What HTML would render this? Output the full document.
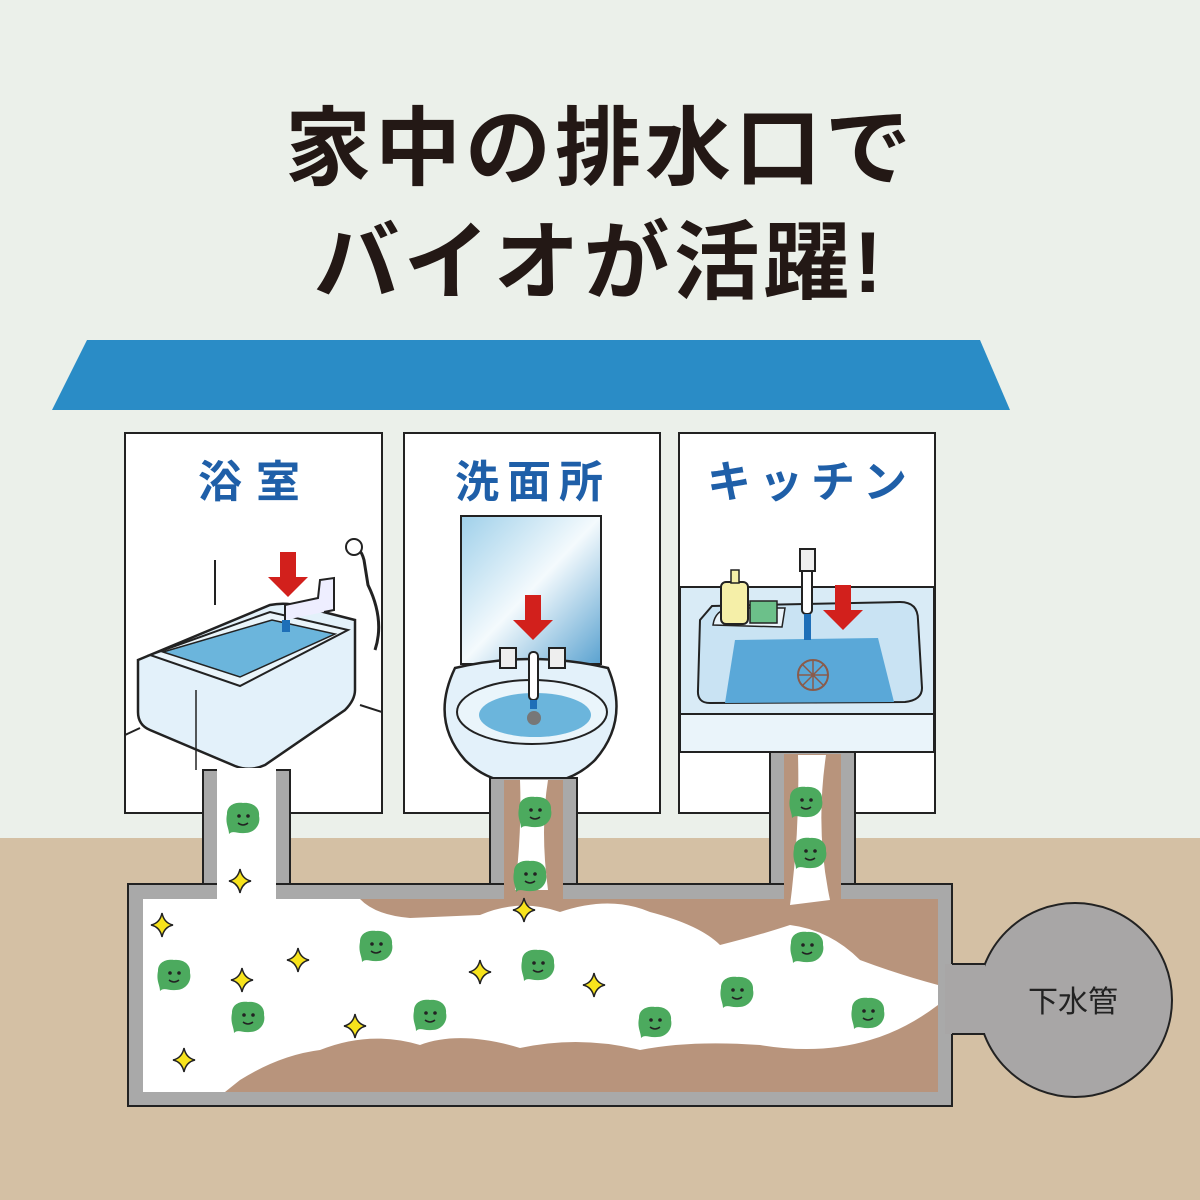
<!DOCTYPE html><html><head><meta charset="utf-8"><style>body{margin:0}svg{display:block}</style></head><body>
<svg width="1200" height="1200" viewBox="0 0 1200 1200" xmlns="http://www.w3.org/2000/svg" font-family="'Liberation Sans','Noto Sans CJK JP',sans-serif">
<defs><linearGradient id="mg" x1="0" y1="0" x2="1" y2="1"><stop offset="0" stop-color="#9fd0ea"/><stop offset="0.5" stop-color="#f4fafd"/><stop offset="1" stop-color="#5aa2d0"/></linearGradient>
<g id="blob"><path d="M-16,-4 C-16,-14 -6,-16 0,-15 C10,-16 17,-10 16,-2 C18,6 12,15 2,15 C-6,16 -10,12 -14,16 C-14,10 -18,6 -16,-4Z" fill="#4caa5e"/><circle cx="-4" cy="-2" r="1.8" fill="#222"/><circle cx="5" cy="-2" r="1.8" fill="#222"/><path d="M-5,5 Q0,9 5,5" stroke="#222" stroke-width="1.5" fill="none"/></g>
<g id="spk"><path d="M0,-12 Q2,-2 11,0 Q2,2 0,12 Q-2,2 -11,0 Q-2,-2 0,-12Z" fill="#f7e31c" stroke="#222" stroke-width="1.5"/></g>
<g id="arr"><rect x="-8" y="-45" width="16" height="26" fill="#d2201c"/><path d="M-20,-20 L20,-20 L0,0Z" fill="#d2201c"/></g>
</defs>
<rect width="1200" height="1200" fill="#ebf0ea"/>
<rect y="838" width="1200" height="362" fill="#d4c0a4"/>
<text x="600" y="178" font-size="86" font-weight="bold" fill="#231815" text-anchor="middle" letter-spacing="4">家中の排水口で</text>
<text x="600" y="292" font-size="86" font-weight="bold" fill="#231815" text-anchor="middle" letter-spacing="4">バイオが活躍!</text>
<polygon points="87,340 980,340 1010,410 52,410" fill="#2a8cc6"/>
<g stroke="#222" stroke-width="2" fill="#fff">
<rect x="125" y="433" width="257" height="380"/><rect x="404" y="433" width="256" height="380"/><rect x="679" y="433" width="256" height="380"/></g>
<g font-size="44" font-weight="bold" fill="#1f5fa8" text-anchor="middle">
<text x="256" y="497" letter-spacing="14">浴室</text><text x="533" y="497" letter-spacing="8">洗面所</text><text x="811" y="497" letter-spacing="8">キッチン</text></g>
<!-- bath -->
<polyline points="125,735 140,728" stroke="#222" stroke-width="2" fill="none"/>
<polyline points="360,705 382,712" stroke="#222" stroke-width="2" fill="none"/>
<line x1="215" y1="560" x2="215" y2="605" stroke="#222" stroke-width="2"/>
<path d="M138,660 L270,605 Q285,602 300,606 L355,620 L355,690 Q355,700 345,710 L265,765 Q250,772 235,766 L150,730 Q138,725 138,712Z" fill="#e3f1fa" stroke="#222" stroke-width="2.5"/>
<path d="M150,655 L270,612 L348,630 L240,686Z" fill="#eaf5fb" stroke="#222" stroke-width="2"/>
<path d="M163,652 L272,620 L335,634 L240,677Z" fill="#6bb5dc" stroke="#222" stroke-width="1.5"/>
<line x1="196" y1="690" x2="196" y2="770" stroke="#222" stroke-width="1.5"/>
<path d="M285,620 L285,605 L318,598 L320,580 L334,578 L334,610 L324,612" fill="#eef" stroke="#222" stroke-width="2"/>
<rect x="282" y="620" width="8" height="12" fill="#1e6fb8"/>
<path d="M352,550 Q360,545 364,560 L368,585 Q385,620 375,650" fill="none" stroke="#222" stroke-width="3"/>
<circle cx="354" cy="547" r="8" fill="#fff" stroke="#222" stroke-width="2"/>
<use href="#arr" x="288" y="597"/>
<!-- sink -->
<rect x="461" y="516" width="140" height="148" fill="url(#mg)" stroke="#222" stroke-width="2"/>
<path d="M455,668 Q530,650 608,668 Q630,720 595,760 Q570,785 530,784 Q490,785 465,760 Q430,720 455,668Z" fill="#e3f1fa" stroke="#222" stroke-width="2.5"/>
<ellipse cx="532" cy="712" rx="75" ry="32" fill="#eaf5fb" stroke="#222" stroke-width="2"/>
<ellipse cx="535" cy="715" rx="56" ry="22" fill="#6bb5dc"/>
<circle cx="534" cy="718" r="7" fill="#777"/>
<rect x="529" y="652" width="9" height="48" rx="4" fill="#fff" stroke="#222" stroke-width="2"/>
<rect x="530" y="700" width="7" height="9" fill="#1e6fb8"/>
<rect x="500" y="648" width="16" height="20" fill="#eee" stroke="#222" stroke-width="2"/><rect x="549" y="648" width="16" height="20" fill="#eee" stroke="#222" stroke-width="2"/>
<use href="#arr" x="533" y="640"/>
<!-- kitchen -->
<rect x="680" y="587" width="254" height="165" fill="#d9ebf6" stroke="#222" stroke-width="2"/>
<line x1="680" y1="714" x2="934" y2="714" stroke="#222" stroke-width="2"/>
<rect x="681" y="715" width="252" height="36" fill="#eaf4fa"/>
<path d="M712,606 L900,602 Q918,602 918,620 L922,688 Q922,700 905,702 L710,703 Q697,703 698,690 L700,620Z" fill="#c9e3f3" stroke="#222" stroke-width="2"/>
<path d="M735,640 L878,638 L894,702 L725,703Z" fill="#5aa8d8"/>
<circle cx="813" cy="675" r="15" fill="none" stroke="#8a5b4a" stroke-width="2"/>
<path d="M798,675 L828,675 M813,660 L813,690 M802,664 L824,686 M824,664 L802,686" stroke="#8a5b4a" stroke-width="1.5"/>
<path d="M713,625 Q715,610 730,608 L785,608 L782,627 Z" fill="#eaf4fa" stroke="#222" stroke-width="1.5"/>
<rect x="721" y="582" width="27" height="42" rx="5" fill="#f5efa8" stroke="#222" stroke-width="2"/>
<rect x="731" y="570" width="8" height="13" fill="#f5efa8" stroke="#222" stroke-width="1.5"/>
<rect x="750" y="601" width="27" height="22" fill="#6cc08a" stroke="#222" stroke-width="1.5"/>
<rect x="802" y="560" width="10" height="54" rx="4" fill="#fff" stroke="#222" stroke-width="2"/>
<rect x="800" y="549" width="15" height="22" fill="#eee" stroke="#222" stroke-width="2"/>
<rect x="804" y="614" width="7" height="26" fill="#1e6fb8"/>
<use href="#arr" x="843" y="630"/>
<!-- pipes -->
<g stroke="#222" stroke-width="2">
<rect x="203" y="770" width="87" height="120" fill="#a9a9a9"/>
<rect x="490" y="778" width="87" height="112" fill="#a9a9a9"/>
<rect x="770" y="752" width="85" height="138" fill="#a9a9a9"/>
<rect x="128" y="884" width="824" height="222" fill="#a9a9a9"/>
<circle cx="1075" cy="1000" r="97" fill="#a8a6a6"/>
<rect x="945" y="964" width="40" height="70" fill="#a8a6a6" stroke="none"/>
</g>
<line x1="952" y1="964" x2="985" y2="964" stroke="#222" stroke-width="2"/><line x1="952" y1="1034" x2="985" y2="1034" stroke="#222" stroke-width="2"/>
<rect x="143" y="899" width="795" height="193" fill="#b8947c"/>
<rect x="217" y="768" width="59" height="135" fill="#fff"/>
<rect x="504" y="780" width="59" height="123" fill="#b8947c"/>
<rect x="784" y="754" width="57" height="149" fill="#b8947c"/>
<path d="M520,780 L548,780 Q540,830 548,890 L515,890 Q522,830 520,780Z" fill="#fff"/>
<path d="M798,755 L826,755 Q815,830 830,900 L790,905 Q800,830 798,755Z" fill="#fff"/>
<path d="M143,899 L360,899 Q375,915 410,918 L480,915 Q520,898 560,912 Q610,895 650,912 Q700,925 720,945 Q760,935 790,925 Q830,930 860,960 Q900,975 938,985 L938,1005 Q905,1030 870,1040 Q820,1055 760,1045 Q690,1040 640,1050 Q580,1035 520,1048 Q460,1030 420,1045 Q370,1030 320,1050 Q280,1055 240,1080 L225,1092 L143,1092Z" fill="#fff"/>
<text x="1073" y="1012" font-size="30" fill="#222" text-anchor="middle">下水管</text>
<g>
<use href="#blob" x="243" y="818"/><use href="#blob" x="535" y="812"/><use href="#blob" x="530" y="876"/><use href="#blob" x="806" y="802"/><use href="#blob" x="810" y="853"/>
<use href="#blob" x="174" y="975"/><use href="#blob" x="248" y="1017"/><use href="#blob" x="376" y="946"/><use href="#blob" x="430" y="1015"/><use href="#blob" x="538" y="965"/><use href="#blob" x="655" y="1022"/><use href="#blob" x="737" y="992"/><use href="#blob" x="807" y="947"/><use href="#blob" x="868" y="1013"/>
<use href="#spk" x="240" y="881"/><use href="#spk" x="162" y="925"/><use href="#spk" x="298" y="960"/><use href="#spk" x="242" y="980"/><use href="#spk" x="355" y="1026"/><use href="#spk" x="184" y="1060"/><use href="#spk" x="480" y="972"/><use href="#spk" x="594" y="985"/><use href="#spk" x="524" y="910"/>
</g>
</svg></body></html>
